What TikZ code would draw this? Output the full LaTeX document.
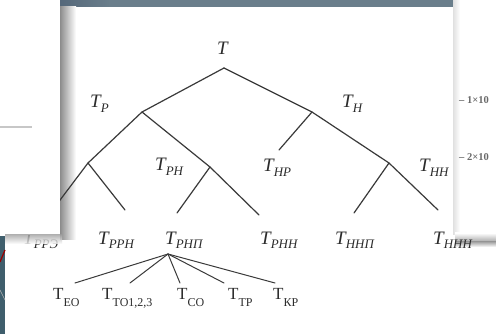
\documentclass[tikz,border=0pt]{standalone}
\usepackage{fontspec}
\setmainfont{Liberation Serif}
\definecolor{band}{HTML}{6A7E8B}
\definecolor{banddark}{HTML}{55687A}
\definecolor{linec}{HTML}{3A3A3A}
\definecolor{txt}{HTML}{2C2C2C}
\definecolor{teal}{HTML}{3F5E6C}
\definecolor{faint}{HTML}{6A6A6A}
\newcommand\lbsubi[1]{\raisebox{-4.5pt}{\fontsize{13}{13}\selectfont\itshape #1}}
\newcommand\lbsubu[1]{\raisebox{-6pt}{\fontsize{12}{12}\selectfont #1}}
\begin{document}
\begin{tikzpicture}[x=1pt,y=-1pt,
  edge/.style={draw=linec, line width=1.2pt, line cap=round},
  itl/.style={anchor=base west, inner sep=0pt, text=txt, font=\fontsize{19}{19}\selectfont\itshape},
  upl/.style={anchor=base west, inner sep=0pt, text=txt, font=\fontsize{17}{17}\selectfont},
  sidetext/.style={anchor=base west, inner sep=0pt, text=faint, font=\fontsize{10.5}{10.5}\selectfont\bfseries}]
\useasboundingbox (0,0) rectangle (496,334);
% background page
\fill[white] (0,0) rectangle (496,334);
% top band of the page photo
\fill[band] (60,0) rectangle (455,7);
\shade[left color=banddark, right color=band] (60,0) rectangle (110,7);
% shadow cast by the left sheet
\shade[left color=black!45, right color=white] (60,7) rectangle (76,240);
% right sheet
\fill[white] (455,0) rectangle (496,235);
\shade[left color=black!12, right color=white] (453,0) rectangle (460,235);
\shade[top color=white, bottom color=black!35] (455,233) rectangle (496,242);
\shade[top color=black!35, bottom color=white] (455,242) rectangle (496,247);
\node[sidetext] (s1) at (459,104) {– 1×10};
\node[sidetext] (s2) at (459,161) {– 2×10};
% tree junctions
\coordinate (r) at (224,68);
\coordinate (p) at (142,112);
\coordinate (h) at (312,112);
\coordinate (pp) at (88,163);
\coordinate (ph) at (210,167);
\coordinate (hh) at (389,163);
\coordinate (hp) at (279,150);
\coordinate (e1) at (48,216);
\coordinate (e2) at (125,210);
\coordinate (e3) at (177,213);
\coordinate (e4) at (259,215);
\coordinate (e5) at (354,213);
\coordinate (e6) at (438,210);
\coordinate (b) at (168,254);
\coordinate (f1) at (75,283);
\coordinate (f2) at (130,283);
\coordinate (f3) at (180,283);
\coordinate (f4) at (224,283);
\coordinate (f5) at (275,283);
% edges
\draw[edge] (r) -- (p);
\draw[edge] (r) -- (h);
\draw[edge] (p) -- (pp);
\draw[edge] (pp) -- (e1);
\draw[edge] (pp) -- (e2);
\draw[edge] (p) -- (ph);
\draw[edge] (ph) -- (e3);
\draw[edge] (ph) -- (e4);
\draw[edge] (h) -- (hp);
\draw[edge] (h) -- (hh);
\draw[edge] (hh) -- (e5);
\draw[edge] (hh) -- (e6);
\foreach \f in {f1,f2,f3,f4,f5} \draw[edge, line width=1pt] (b) -- (\f);
% italic labels
\node[itl] (lT) at (217,55) {Т};
\node[itl] (lP) at (90,108) {Т\lbsubi{Р}};
\node[itl] (lH) at (342,108) {Т\lbsubi{Н}};
\node[itl] (lPH) at (155,171) {Т\lbsubi{РН}};
\node[itl] (lHP) at (263,172) {Т\lbsubi{НР}};
\node[itl] (lHH) at (419,172) {Т\lbsubi{НН}};
\node[itl] (lPPE) at (23,244) {Т\lbsubi{РРЭ}};
\node[itl] (lPPH) at (98,244) {Т\lbsubi{РРН}};
\node[itl] (lPHP) at (165,244) {Т\lbsubi{РНП}};
\node[itl] (lPHH) at (260,244) {Т\lbsubi{РНН}};
\node[itl] (lHHP) at (335,244) {Т\lbsubi{ННП}};
\node[itl] (lHHH) at (433,244) {Т\lbsubi{ННН}};
% upright labels
\node[upl] (uEO) at (53,300) {Т\lbsubu{ЕО}};
\node[upl] (uTO) at (102,300) {Т\lbsubu{ТО1,2,3}};
\node[upl] (uCO) at (177,300) {Т\lbsubu{СО}};
\node[upl] (uTP) at (228,300) {Т\lbsubu{ТР}};
\node[upl] (uKP) at (273,300) {Т\lbsubu{КР}};
% left sheet lying on top
\fill[white] (0,0) rectangle (60,235);
\fill[black!22] (0,126.5) rectangle (32,128.5);
\shade[top color=black!35, bottom color=white, opacity=0.8] (5,235) rectangle (62,244);
% photo strip at bottom left
\fill[teal] (0,236) rectangle (5,334);
\draw[red!60!black, line width=1.2pt] (0,262) -- (5,250);
\draw[black!30, line width=0.6pt] (0,290) -- (5,300);
\end{tikzpicture}
\end{document}
